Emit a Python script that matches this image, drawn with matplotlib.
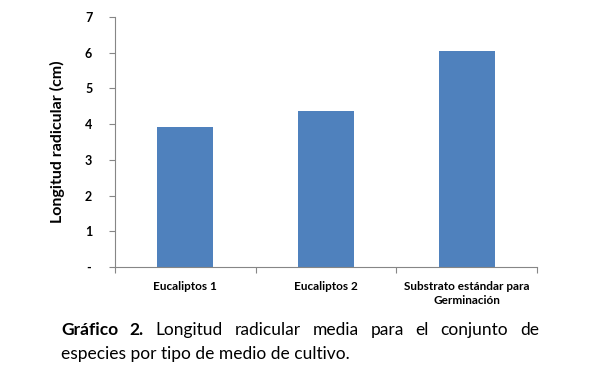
import matplotlib
matplotlib.use('Agg')
from matplotlib import pyplot as plt
import numpy as np

# Data
categories = ['Eucaliptos 1', 'Eucaliptos 2', 'Substrato estándar para\nGerminación']
longitud = [3.92, 4.37, 6.05]
yticks = [0, 1, 2, 3, 4, 5, 6, 7]
ytick_labels = ['-', '1', '2', '3', '4', '5', '6', '7']

caption_bold = ['Gráfico', '2.']
caption_line1 = ['Longitud', 'radicular', 'media', 'para', 'el', 'conjunto', 'de']
caption_line2 = 'especies por tipo de medio de cultivo.'

plt.rcParams['font.family'] = ['Lato', 'DejaVu Sans']

W, H = 592, 372
fig = plt.figure(figsize = (W / 100, H / 100), dpi = 100)
ax = fig.add_axes([115 / W, 1 - 267 / H, (537 - 115) / W, (267 - 17) / H])

x = np.arange(len(categories))
ax.bar(x, longitud, width = 0.4, color = '#4f81bd')

ax.set_xlim(-0.5, len(categories) - 0.5)
ax.set_ylim(0, 7)
ax.set_yticks(yticks)
ax.set_yticklabels(ytick_labels, fontsize = 9, fontweight = 'bold')
ax.set_xticks(x)
ax.set_xticklabels(categories, fontsize = 8.5, fontweight = 'bold', linespacing = 1.4)
ax.tick_params(axis = 'x', length = 0, pad = 10)
ax.set_xticks(np.arange(len(categories) + 1) - 0.5, minor = True)
ax.tick_params(axis = 'x', which = 'minor', length = 4, color = '#868686', width = 0.8)
ax.tick_params(axis = 'y', length = 4, color = '#868686', width = 0.8, pad = 15)
for lbl in ax.get_yticklabels():
    lbl.set_horizontalalignment('center')
ax.set_ylabel('Longitud radicular (cm)', fontsize = 11.5, fontweight = 'bold', labelpad = 14)

for side in ['top', 'right']:
    ax.spines[side].set_visible(False)
for side in ['left', 'bottom']:
    ax.spines[side].set_color('#868686')
    ax.spines[side].set_linewidth(0.8)

# Justified caption under the chart
renderer = fig.canvas.get_renderer()
left, right = 61 / W, 539 / W
y1, y2 = 1 - 330 / H, 1 - 354 / H
words = [(w, 'bold') for w in caption_bold] + [(w, 'normal') for w in caption_line1]
texts = [fig.text(0, y1, w, fontsize = 12.5, fontweight = wt, va = 'center') for w, wt in words]
widths = [t.get_window_extent(renderer).width / W for t in texts]
gap = (right - left - sum(widths)) / (len(texts) - 1)
pos = left
for t, w in zip(texts, widths):
    t.set_x(pos)
    pos += w + gap
fig.text(left, y2, caption_line2, fontsize = 12.5, va = 'center')

fig.savefig('out.png', dpi = 100)
